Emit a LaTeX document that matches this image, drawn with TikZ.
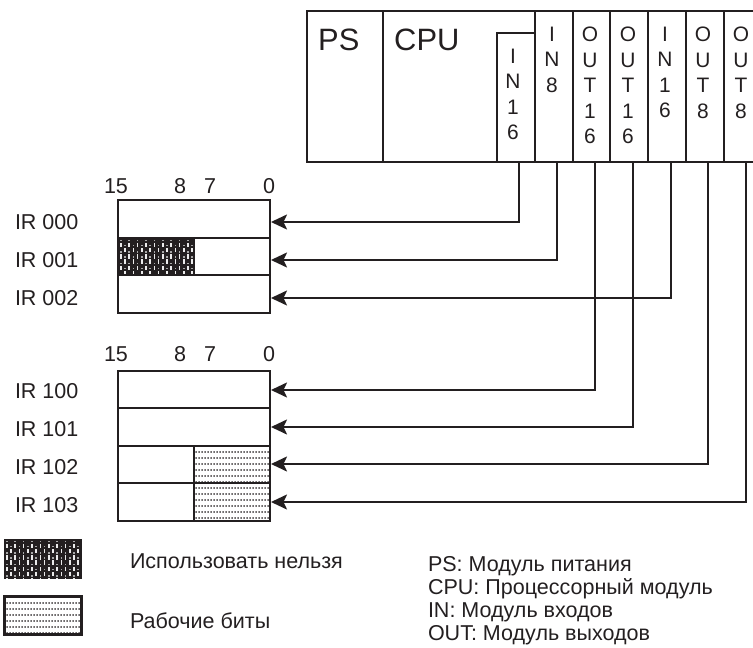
\documentclass[tikz,border=0pt]{standalone}
\usepackage{fontspec}
\setmainfont{Liberation Sans}
\usetikzlibrary{arrows.meta,patterns}
\pgfdeclarepatternformonly{lightdots}{\pgfqpoint{0bp}{0bp}}{\pgfqpoint{3.2bp}{6.4bp}}{\pgfqpoint{3.2bp}{6.4bp}}{%
  \pgfpathrectangle{\pgfqpoint{0.6bp}{2.6bp}}{\pgfqpoint{1.7bp}{1.3bp}}\pgfusepath{fill}
}
\definecolor{ink}{HTML}{231F20}
\tikzset{
  x=1bp,y=-1bp,
  box/.style={draw=ink,line width=2.1bp,rectangle,inner sep=0pt,outer sep=0pt,anchor=north west},
  lbl/.style={inner sep=0pt,outer sep=0pt,text=ink,font=\fontsize{21.6}{26}\selectfont},
  modtxt/.style={inner sep=0pt,text=ink,align=center,anchor=north,font=\fontsize{21}{25.5}\selectfont},
  big/.style={inner sep=0pt,text=ink,anchor=west,font=\fontsize{31}{33}\selectfont},
  wire/.style={draw=ink,line width=2bp,-{Stealth[length=16bp,width=15bp,inset=3.5bp]}},
}
\newcommand{\darkholes}[4]{% x1 y1 x2 y2
  \begin{scope}
    \clip (#1,#2) rectangle (#3,#4);
    \foreach \r in {0,1,2,3}{
      \foreach \c in {0,...,18}{
        \pgfmathsetmacro{\xx}{#1+1+\c*4.2}
        \pgfmathsetmacro{\yy}{#2+0.8+\r*11.5+mod(\c,2)*5}
        \fill[black!8] (\xx,\yy+3) rectangle (\xx+1.6,\yy+7.4);
        \fill[black!35] (\xx,\yy) rectangle (\xx+1.6,\yy+1.6);
      }
    }
  \end{scope}
}
\begin{document}
\begin{tikzpicture}
\useasboundingbox (0,0) rectangle (753,648);
% rack
\node[box,minimum width=76bp,minimum height=151bp] (ps) at (307,11) {};
\node[box,minimum width=152bp,minimum height=151bp] (cpu) at (383,11) {};
\node[box,minimum width=38bp,minimum height=129bp] (m0) at (497,33) {};
\node[box,minimum width=38bp,minimum height=151bp] (m1) at (535,11) {};
\node[box,minimum width=37bp,minimum height=151bp] (m2) at (573,11) {};
\node[box,minimum width=38bp,minimum height=151bp] (m3) at (610,11) {};
\node[box,minimum width=38bp,minimum height=151bp] (m4) at (648,11) {};
\node[box,minimum width=38bp,minimum height=151bp] (m5) at (686,11) {};
\node[box,minimum width=38bp,minimum height=151bp] (m6) at (724,11) {};
\node[big] (tps) at (318,40) {PS};
\node[big] (tcpu) at (394,40) {CPU};
\node[modtxt] (t0) at (513,49) {I\\N\\1\\6};
\node[modtxt] (t1) at (552,27) {I\\N\\8};
\node[modtxt] (t2) at (590,27) {O\\U\\T\\1\\6};
\node[modtxt] (t3) at (628,27) {O\\U\\T\\1\\6};
\node[modtxt] (t4) at (665,27) {I\\N\\1\\6};
\node[modtxt] (t5) at (703,27) {O\\U\\T\\8};
\node[modtxt] (t6) at (741,27) {O\\U\\T\\8};
% table 1
\fill[ink] (118,238) rectangle (195,275);
\darkholes{119}{239}{194}{274}
\node[box,minimum width=152bp,minimum height=38bp] (r0) at (118,200) {};
\node[box,minimum width=152bp,minimum height=37bp] (r1) at (118,238) {};
\node[box,minimum width=152bp,minimum height=38bp] (r2) at (118,275) {};
% table 2
\fill[pattern=lightdots,pattern color=ink] (194,446) rectangle (270,521);
\node[box,minimum width=152bp,minimum height=37bp] (r3) at (118,371) {};
\node[box,minimum width=152bp,minimum height=38bp] (r4) at (118,408) {};
\node[box,minimum width=152bp,minimum height=37bp] (r5) at (118,446) {};
\node[box,minimum width=152bp,minimum height=38bp] (r6) at (118,483) {};
\coordinate (s5t) at (194,446);
\coordinate (s6b) at (194,521);
\draw[draw=ink,line width=2.1bp] (s5t) -- (s6b);
% connectors
\draw[wire] ([xshift=3bp]m0.south) |- ([yshift=-3bp,xshift=1bp]r0.east);
\draw[wire] ([xshift=3bp]m1.south) |- ([yshift=-3.5bp,xshift=1bp]r1.east);
\draw[wire] ([xshift=4bp]m4.south) |- ([yshift=-4bp,xshift=1bp]r2.east);
\draw[wire] ([xshift=3.5bp]m2.south) |- ([yshift=-0.5bp,xshift=1bp]r3.east);
\draw[wire] ([xshift=4bp]m3.south) |- ([yshift=0bp,xshift=1bp]r4.east);
\draw[wire] ([xshift=3bp]m5.south) |- ([yshift=0.5bp,xshift=1bp]r5.east);
\draw[wire] ([xshift=3bp]m6.south) |- ([yshift=0bp,xshift=1bp]r6.east);
% bit labels
\node[lbl] (a15) at (116,186) {15};
\node[lbl] (a8) at (180,186) {8};
\node[lbl] (a7) at (210,186) {7};
\node[lbl] (a0) at (269,186) {0};
\node[lbl] (b15) at (116,354) {15};
\node[lbl] (b8) at (180,354) {8};
\node[lbl] (b7) at (210,354) {7};
\node[lbl] (b0) at (269,354) {0};
% row labels
\node[lbl,anchor=west] (l0) at (15,222) {IR 000};
\node[lbl,anchor=west] (l1) at (15,260) {IR 001};
\node[lbl,anchor=west] (l2) at (15,298) {IR 002};
\node[lbl,anchor=west] (l3) at (15,391) {IR 100};
\node[lbl,anchor=west] (l4) at (15,429) {IR 101};
\node[lbl,anchor=west] (l5) at (15,467) {IR 102};
\node[lbl,anchor=west] (l6) at (15,505) {IR 103};
% legend
\fill[ink] (4,539) rectangle (82,579);
\darkholes{5}{540}{81}{578}
\fill[pattern=lightdots,pattern color=ink] (5,597) rectangle (81,634);
\node[box,minimum width=77bp,minimum height=38bp] (k2) at (4.5,596.5) {};
\node[lbl,anchor=west] (k1t) at (130,561) {Использовать нельзя};
\node[lbl,anchor=west] (k2t) at (130,621) {Рабочие биты};
\node[lbl,anchor=west] (n1) at (428,566) {PS: Модуль питания};
\node[lbl,anchor=west] (n2) at (428,589) {CPU: Процессорный модуль};
\node[lbl,anchor=west] (n3) at (428,612) {IN: Модуль входов};
\node[lbl,anchor=west] (n4) at (428,635) {OUT: Модуль выходов};
\end{tikzpicture}
\end{document}
